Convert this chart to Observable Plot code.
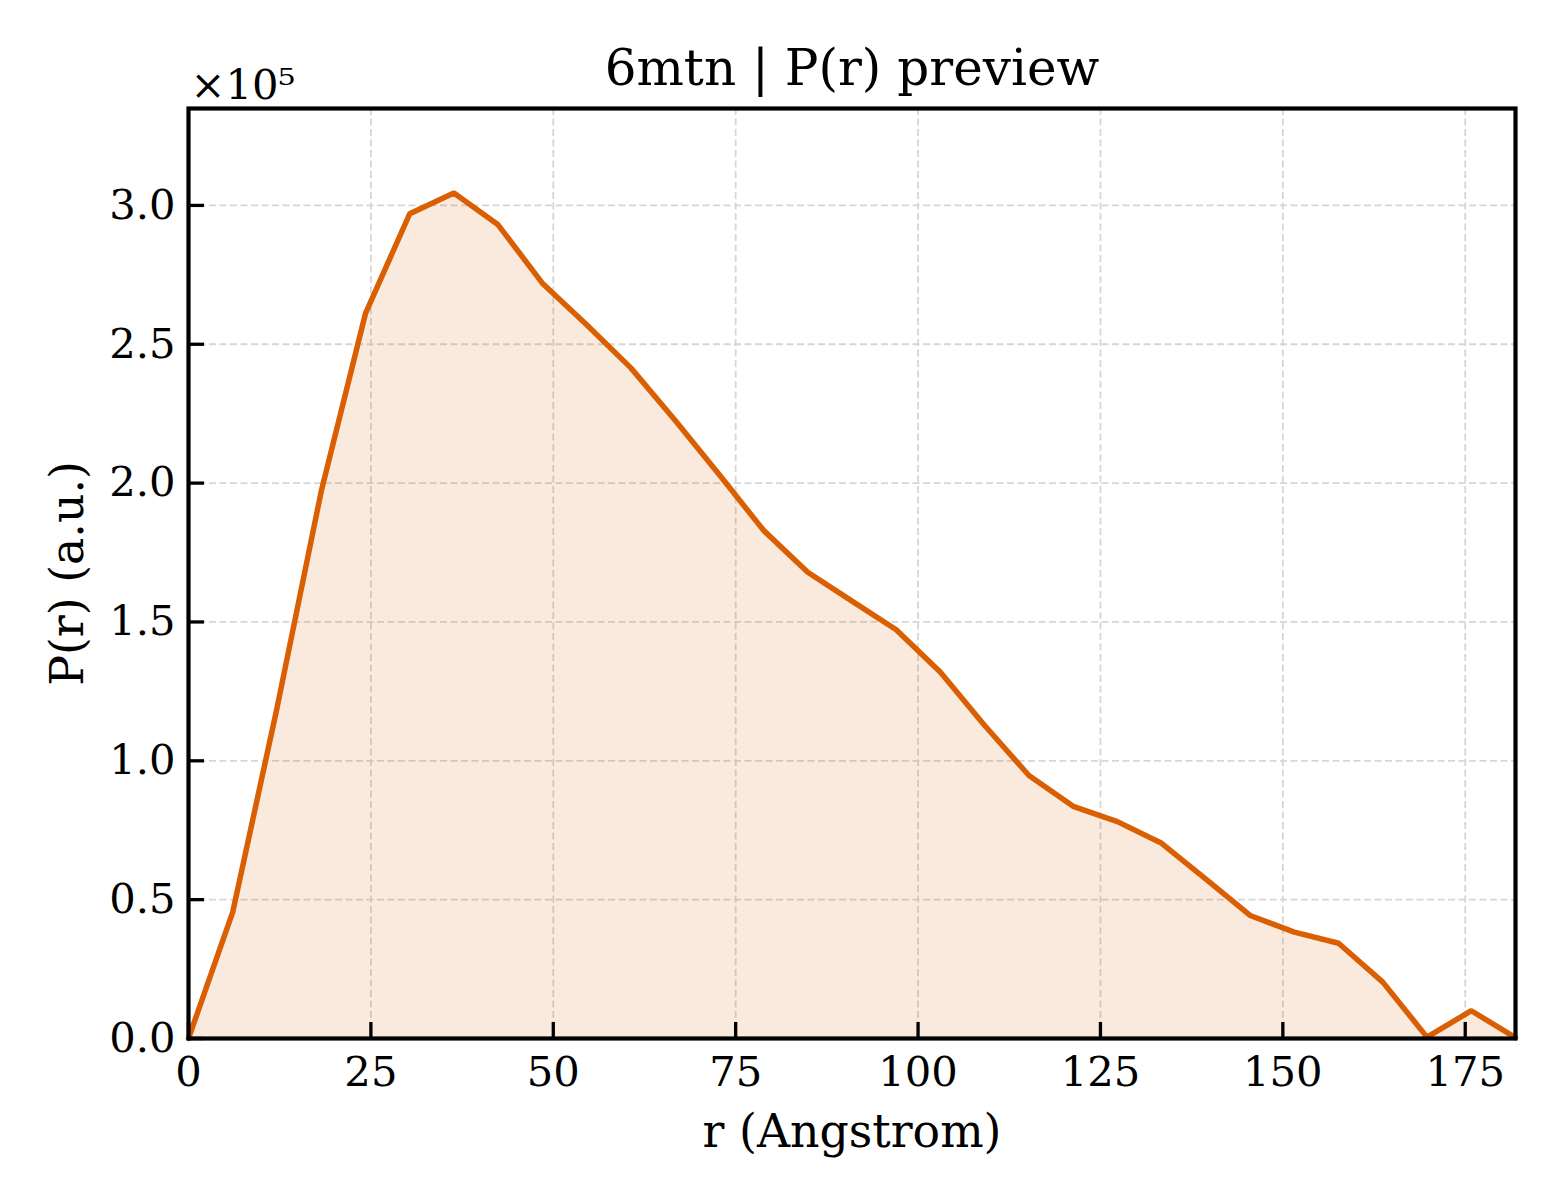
<!DOCTYPE html>
<html><head><meta charset="utf-8">
<script src="https://cdn.jsdelivr.net/npm/d3@7"></script>
<script src="https://cdn.jsdelivr.net/npm/@observablehq/plot@0.6"></script>
<style>body{margin:0;background:#fff;} #chart svg{display:block}</style>
</head><body><div id="chart"></div>
<script>
const rValues = [0, 6.06, 12.13, 18.19, 24.25, 30.32, 36.38, 42.44, 48.5, 54.57, 60.63, 66.69, 72.76, 78.82, 84.88, 90.95, 97.01, 103.07, 109.13, 115.2, 121.26, 127.32, 133.39, 139.45, 145.51, 151.58, 157.64, 163.7, 169.76, 175.83, 181.89];
const pValues = [0, 45500, 119000, 197000, 261000, 297000, 304500, 293000, 272000, 257000, 241500, 222600, 203000, 183000, 167900, 157500, 147200, 131900, 112700, 94700, 83600, 78100, 70300, 57400, 44300, 38300, 34300, 20300, 500, 10000, 300];
const xTicks = [0, 25, 50, 75, 100, 125, 150, 175];
const yTicks = [0, 50000, 100000, 150000, 200000, 250000, 300000];
const yTickLabels = ["0.0", "0.5", "1.0", "1.5", "2.0", "2.5", "3.0"];
const xDomain = [0, 181.89];
const yDomain = [0, 334900];
const titleText = "6mtn | P(r) preview";
const xLabel = "r (Angstrom)";
const yLabel = "P(r) (a.u.)";
const offsetLabel = "×10⁵";

const data = rValues.map((r, i) => ({r, p: pValues[i]}));
const W = 1560, H = 1200, mL = 188, mR = 45, mT = 108, mB = 162;
const innerW = W - mL - mR, innerH = H - mT - mB;
const tickLen = 16;
const gridStyle = {stroke: "#d6d6d6", strokeDasharray: "7,3.5", strokeWidth: 1.8};

const chart = Plot.plot({
  width: W, height: H,
  marginLeft: mL, marginRight: mR, marginTop: mT, marginBottom: mB,
  style: {fontFamily: "'DejaVu Serif', serif", color: "black", background: "white", overflow: "visible"},
  x: {domain: xDomain},
  y: {domain: yDomain},
  marks: [
    Plot.ruleX(xTicks, gridStyle),
    Plot.ruleY(yTicks, gridStyle),
    Plot.areaY(data, {x: "r", y: "p", fill: "#D95F02", fillOpacity: 0.13}),
    Plot.lineY(data, {x: "r", y: "p", stroke: "#D95F02", strokeWidth: 5.5, strokeLinejoin: "miter"}),
    Plot.tickX(xTicks, {insetTop: innerH - tickLen, stroke: "black", strokeWidth: 3.3}),
    Plot.tickY(yTicks, {insetRight: innerW - tickLen, stroke: "black", strokeWidth: 3.3}),
    Plot.frame({stroke: "black", strokeWidth: 4.2}),
    Plot.axisX(xTicks, {tickSize: 0, tickPadding: 18, fontSize: 41.7, label: null}),
    Plot.axisY(yTicks, {tickSize: 0, tickPadding: 13, fontSize: 41.7, label: null,
      tickFormat: d => yTickLabels[yTicks.indexOf(d)]}),
    Plot.text([titleText], {frameAnchor: "top", lineAnchor: "middle", textAnchor: "middle", dy: -40, fontSize: 50, fill: "black"}),
    Plot.text([xLabel], {frameAnchor: "bottom", lineAnchor: "middle", textAnchor: "middle", dy: 94, fontSize: 45.8, fill: "black"}),
    Plot.text([yLabel], {frameAnchor: "left", lineAnchor: "middle", textAnchor: "middle", dx: -120, rotate: -90, fontSize: 45.8, fill: "black"}),
    Plot.text([offsetLabel], {frameAnchor: "top-left", textAnchor: "start", lineAnchor: "bottom", dx: 2, dy: -10, fontSize: 41.7, fill: "black"})
  ]
});
document.getElementById("chart").appendChild(chart);
</script>
</body></html>
